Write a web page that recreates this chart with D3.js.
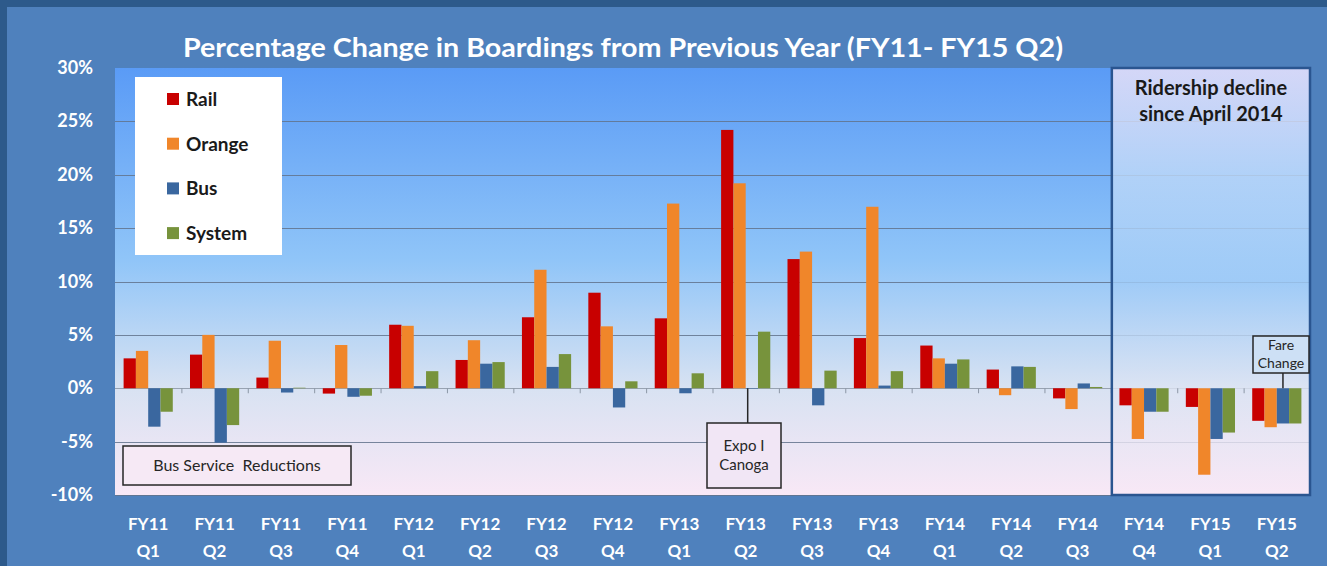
<!DOCTYPE html>
<html>
<head>
<meta charset="utf-8">
<script src="https://cdn.jsdelivr.net/npm/d3@7"></script>
<style>
  body { margin: 0; background: #4f81bd; }
  svg text { font-family: Lato, "Open Sans", sans-serif; white-space: pre; }
</style>
</head>
<body>
<div class="chart"></div>
<script>
// data
const quarters = ["FY11 Q1", "FY11 Q2", "FY11 Q3", "FY11 Q4", "FY12 Q1", "FY12 Q2", "FY12 Q3", "FY12 Q4",
                  "FY13 Q1", "FY13 Q2", "FY13 Q3", "FY13 Q4", "FY14 Q1", "FY14 Q2", "FY14 Q3", "FY14 Q4",
                  "FY15 Q1", "FY15 Q2"];
const seriesNames = ["Rail", "Orange", "Bus", "System"];
const rail   = [2.8, 3.15, 1.0, -0.5, 5.95, 2.65, 6.65, 8.95, 6.55, 24.2, 12.1, 4.7, 4.0, 1.75, -0.95, -1.6, -1.75, -3.05];
const orange = [3.5, 5.0, 4.45, 4.05, 5.85, 4.5, 11.1, 5.8, 17.3, 19.2, 12.8, 17.0, 2.8, -0.65, -1.95, -4.75, -8.1, -3.65];
const bus    = [-3.6, -5.1, -0.4, -0.8, 0.2, 2.3, 2.0, -1.8, -0.47, -0.05, -1.6, 0.25, 2.3, 2.05, 0.45, -2.2, -4.75, -3.3];
const system = [-2.2, -3.45, 0.05, -0.7, 1.6, 2.45, 3.2, 0.65, 1.4, 5.3, 1.65, 1.6, 2.7, 2.0, 0.12, -2.2, -4.15, -3.3];
const yTicks = [-10, -5, 0, 5, 10, 15, 20, 25, 30];

const colors = {Rail: "#c80000", Orange: "#f0862a", Bus: "#3a679f", System: "#77933c"};
const seriesValues = {Rail: rail, Orange: orange, Bus: bus, System: system};

const W = 1327, H = 566;
const margin = {top: 68, right: 17, bottom: 71, left: 115};

const svg = d3.select(".chart").append("svg")
    .attr("width", W)
    .attr("height", H);

// outer frame
svg.append("rect").attr("width", W).attr("height", H).attr("fill", "#2d5a8b");
svg.append("rect").attr("x", 7).attr("y", 7).attr("width", W - 7).attr("height", H - 7).attr("fill", "#4f81bd");

const x = d3.scaleBand().domain(quarters).range([margin.left, W - margin.right]).padding(0);
const xSub = d3.scaleBand().domain(seriesNames).range([0, x.bandwidth()]).paddingInner(0).paddingOuter(0.7);
const y = d3.scaleLinear().domain([-10, 30]).range([H - margin.bottom, margin.top]);

// plot background gradient
const defs = svg.append("defs");
const g1 = defs.append("linearGradient").attr("id", "plotBg").attr("x1", 0).attr("y1", 0).attr("x2", 0).attr("y2", 1);
g1.append("stop").attr("offset", "0%").attr("stop-color", "#5a9bf6");
g1.append("stop").attr("offset", "45%").attr("stop-color", "#90c5f8");
g1.append("stop").attr("offset", "75%").attr("stop-color", "#d8e2f2");
g1.append("stop").attr("offset", "100%").attr("stop-color", "#f8e8f6");

const g2 = defs.append("linearGradient").attr("id", "boxBg").attr("x1", 0).attr("y1", 0).attr("x2", 0).attr("y2", 1);
g2.append("stop").attr("offset", "0%").attr("stop-color", "#f3e6f8");
g2.append("stop").attr("offset", "25%").attr("stop-color", "#bfd9f8");
g2.append("stop").attr("offset", "50%").attr("stop-color", "#a0cbf7");
g2.append("stop").attr("offset", "75%").attr("stop-color", "#dde4f3");
g2.append("stop").attr("offset", "100%").attr("stop-color", "#f8e8f6");

svg.append("rect")
    .attr("x", margin.left).attr("y", margin.top)
    .attr("width", W - margin.left - margin.right)
    .attr("height", H - margin.top - margin.bottom)
    .attr("fill", "url(#plotBg)");

// gridlines
svg.append("g")
    .selectAll("line")
    .data(yTicks.filter(d => d !== 30))
    .join("line")
    .attr("x1", margin.left).attr("x2", W - margin.right)
    .attr("y1", d => Math.round(y(d)) + 0.5).attr("y2", d => Math.round(y(d)) + 0.5)
    .attr("stroke", d => d === 0 ? "#8c97a6" : "#62738c")
    .attr("stroke-opacity", 0.85)
    .attr("stroke-width", 1);

// highlight panel for last three quarters (semi-opaque over the grid)
const boxX = x("FY14 Q4") + 1;
svg.append("rect")
    .attr("x", boxX).attr("y", margin.top)
    .attr("width", W - margin.right - boxX)
    .attr("height", H - margin.top - margin.bottom)
    .attr("fill", "url(#boxBg)")
    .attr("fill-opacity", 0.8);

// y labels
svg.append("g")
    .selectAll("text")
    .data(yTicks)
    .join("text")
    .attr("x", 93).attr("y", d => y(d) + 6)
    .attr("text-anchor", "end")
    .attr("fill", "#fff")
    .attr("font-size", 18).attr("font-weight", "bold")
    .text(d => d + "%");

// tick marks on zero line at category boundaries
svg.append("g")
    .selectAll("line")
    .data(quarters.slice(1))
    .join("line")
    .attr("x1", d => x(d) + 0.5).attr("x2", d => x(d) + 0.5)
    .attr("y1", y(0)).attr("y2", y(0) + 5)
    .attr("stroke", "#8c97a6");

// bars
const groups = svg.append("g")
    .selectAll("g")
    .data(quarters)
    .join("g")
    .attr("transform", d => `translate(${x(d)},0)`);

groups.selectAll("rect")
    .data((q, i) => seriesNames.map(s => ({s, v: seriesValues[s][i]})))
    .join("rect")
    .attr("x", d => xSub(d.s))
    .attr("width", xSub.bandwidth())
    .attr("y", d => y(Math.max(0, d.v)))
    .attr("height", d => Math.abs(y(d.v) - y(0)))
    .attr("fill", d => colors[d.s]);

// highlight panel border
svg.append("rect")
    .attr("x", boxX).attr("y", margin.top)
    .attr("width", W - margin.right - boxX)
    .attr("height", H - margin.top - margin.bottom)
    .attr("fill", "none")
    .attr("stroke", "#2a5590").attr("stroke-width", 2.5);

svg.append("text")
    .attr("x", boxX + (W - margin.right - boxX) / 2).attr("y", 95)
    .attr("text-anchor", "middle").attr("fill", "#1a1a1a")
    .attr("font-size", 20).attr("font-weight", "bold")
    .selectAll("tspan")
    .data(["Ridership decline", "since April 2014"])
    .join("tspan")
    .attr("x", boxX + (W - margin.right - boxX) / 2)
    .attr("dy", (d, i) => i ? 26 : 0)
    .text(d => d);

// x labels
const xl = svg.append("g")
    .selectAll("text")
    .data(quarters)
    .join("text")
    .attr("text-anchor", "middle")
    .attr("fill", "#fff")
    .attr("font-size", 17).attr("font-weight", "bold");
xl.append("tspan").attr("x", d => x(d) + x.bandwidth() / 2).attr("y", 530).text(d => d.split(" ")[0]);
xl.append("tspan").attr("x", d => x(d) + x.bandwidth() / 2).attr("y", 557).text(d => d.split(" ")[1]);

// title
svg.append("text")
    .attr("x", 623).attr("y", 57)
    .attr("text-anchor", "middle")
    .attr("fill", "#fff")
    .attr("font-size", 27).attr("font-weight", "bold")
    .attr("textLength", 880).attr("lengthAdjust", "spacingAndGlyphs")
    .text("Percentage Change in Boardings from Previous Year (FY11- FY15 Q2)");

// legend
const legend = svg.append("g");
legend.append("rect").attr("x", 135).attr("y", 77).attr("width", 147).attr("height", 178).attr("fill", "#fff");
const li = legend.selectAll("g")
    .data(seriesNames)
    .join("g")
    .attr("transform", (d, i) => `translate(167,${99 + i * 44.7})`);
li.append("rect").attr("x", 0).attr("y", -6).attr("width", 12).attr("height", 12).attr("fill", d => colors[d]);
li.append("text").attr("x", 19).attr("y", 7).attr("fill", "#1a1a1a")
    .attr("font-size", 19).attr("font-weight", "bold").text(d => d);

// annotation boxes
function noteBox(bx, by, bw, bh, lines, fs, lineH, fill) {
    svg.append("rect").attr("x", bx).attr("y", by).attr("width", bw).attr("height", bh)
        .attr("fill", fill).attr("stroke", "#262626").attr("stroke-width", 1.5);
    svg.append("text").attr("text-anchor", "middle").attr("fill", "#262626").attr("font-size", fs)
        .selectAll("tspan").data(lines).join("tspan")
        .attr("x", bx + bw / 2)
        .attr("y", (d, i) => by + bh / 2 - (lines.length - 1) * lineH / 2 + i * lineH + fs * 0.35)
        .text(d => d);
}

noteBox(123, 446, 228, 39, ["Bus Service  Reductions"], 16, 0, "#f6e9f5");

// Expo / Canoga callout
const expoX = x("FY13 Q2") + x.bandwidth() / 2 + 2;
svg.append("line").attr("x1", expoX).attr("x2", expoX).attr("y1", y(0)).attr("y2", 423).attr("stroke", "#262626").attr("stroke-width", 1.5);
noteBox(707, 423, 74, 65, ["Expo I", "Canoga"], 15, 19, "#f1e6f5");

// Fare change callout
const fareX = x("FY15 Q2") + xSub("Bus") + xSub.bandwidth() / 2;
svg.append("line").attr("x1", fareX).attr("x2", fareX).attr("y1", 373).attr("y2", y(0)).attr("stroke", "#262626").attr("stroke-width", 1.5);
noteBox(1253, 336, 56, 37, ["Fare", "Change"], 14, 18, "#cde0f5");
</script>
</body>
</html>
